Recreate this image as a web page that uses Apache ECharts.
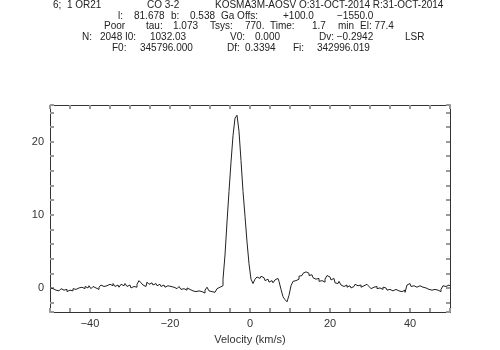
<!DOCTYPE html>
<html>
<head>
<meta charset="utf-8">
<script src="https://cdn.jsdelivr.net/npm/echarts@6/dist/echarts.min.js"></script>
<style>
  html, body { margin: 0; padding: 0; background: #fff; }
  #box { width: 500px; height: 350px; }
</style>
</head>
<body>
<div id="box"></div>
<script>
// channel grid of the spectrum (km/s)
const velStart = -50;
const velStep = 0.5;

// antenna temperature per channel
const temp = [
  0.0, -0.1, 0.1, -0.3, -0.4, -0.2, -0.1, -0.3, -0.2, -0.5,
  -0.3, -0.4, -0.1, -0.2, 0.0, -0.2, 0.1, -0.1, 0.2, 0.0,
  0.3, -0.1, 0.2, 0.0, -0.2, 0.1, 0.4, 0.2, 0.3, 0.1,
  0.5, 0.3, 0.6, 0.2, 0.4, 0.1, 0.5, 0.3, 0.6, 0.2,
  0.4, 0.0, 0.2, 0.1, 0.5, 1.0, 0.7, 0.4, 0.2, 0.8,
  0.5, 0.7, 0.4, 0.6, 0.3, 0.5, 0.2, 0.4, 0.1, 0.3,
  0.2, 0.4, 0.1, -0.1, 0.0, 0.2, -0.2, -0.1, -0.3, 0.0,
  -0.2, -0.4, -0.3, -0.5, -0.4, -0.6, -0.5, -0.7, -0.3, 0.1,
  -0.4, -0.5, -0.6, -0.4, -0.1, 0.1, 0.3, 1.2, 4.5, 9.0,
  13.2, 17.2, 20.8, 23.2, 23.6, 21.4, 17.4, 13.2, 9.8, 6.3,
  3.3, 1.2, 0.6, 1.2, 1.5, 1.3, 1.6, 1.4, 1.0, 1.2,
  0.8, 1.0, 0.7, 1.1, 1.3, 0.9, -0.2, -1.2, -1.6, -1.9,
  -1.0, 0.3, 0.9, 1.0, 1.2, 1.6, 1.7, 2.0, 2.2, 2.0,
  1.7, 1.8, 1.4, 1.2, 1.3, 0.9, 1.0, 0.8, 1.2, 1.7,
  1.5, 1.1, 1.3, 0.7, 0.6, 0.9, 0.4, 0.2, 0.4, 0.1,
  0.3, 0.0, 0.2, 0.5, 0.3, 0.4, 0.1, 0.3, 0.5, 0.6,
  0.2, -0.1, 0.1, 0.2, -0.1, 0.0, -0.2, 0.1, 0.0, -0.3,
  -0.2, -0.4, -0.3, -0.2, -0.4, -0.3, -0.5, -0.3, -0.6, 0.4,
  0.6, 0.2, 0.3, 0.1, 0.2, 0.3, 0.1, -0.1, 0.0, -0.2,
  -0.1, -0.3, -0.2, -0.4, -0.3, -0.5, -0.2, 0.3, 0.2, 0.4,
  0.3
];

// axis ranges and labelled ticks
const xRange = [-50, 50];
const yRange = [-3.3, 25];
const xLabels = [-40, -20, 0, 20, 40];
const yLabels = [0, 10, 20];

// header lines: [x, line, text]
const header = [
  [53, 0, "6;  1 OR21"], [147, 0, "CO 3-2"], [215, 0, "KOSMA3M-AOSV O:31-OCT-2014 R:31-OCT-2014"],
  [118, 1, "l:"], [134, 1, "81.678"], [171, 1, "b:"], [190, 1, "0.538"], [221, 1, "Ga Offs:"], [283, 1, "+100.0"], [337, 1, "\u22121550.0"],
  [104, 2, "Poor"], [146, 2, "tau:"], [173, 2, "1.073"], [210, 2, "Tsys:"], [245, 2, "770."], [270, 2, "Time:"], [312, 2, "1.7"], [338, 2, "min"], [360, 2, "El: 77.4"],
  [82, 3, "N:"], [100, 3, "2048 I0:"], [150, 3, "1032.03"], [230, 3, "V0:"], [255, 3, "0.000"], [319, 3, "Dv: \u22120.2942"], [405, 3, "LSR"],
  [112, 4, "F0:"], [140, 4, "345796.000"], [227, 4, "Df:"], [245, 4, "0.3394"], [293, 4, "Fi:"], [317, 4, "342996.019"]
];

const lineColor = "#333";
const font = "'Liberation Sans', Arial, sans-serif";

const chart = echarts.init(document.getElementById("box"));

const seriesData = temp.map((t, i) => [velStart + i * velStep, t]);

function fmt(list) {
  return v => {
    const hit = list.find(l => Math.abs(l - v) < 1e-6);
    if (hit === undefined) return "";
    return hit < 0 ? "\u2212" + Math.abs(hit) : String(hit);
  };
}

// frame side: inward ticks, axis line, optional labels
// (inside ticks of width 1 do not show up, so they are 2px and lighter)
function side(pos, range, step, labels) {
  const ax = {
    type: "value",
    position: pos,
    min: range[0],
    max: range[1],
    axisLine: { show: true, onZero: false, lineStyle: { color: lineColor, width: 1 } },
    axisTick: { show: true, inside: true, length: 4, lineStyle: { color: "#999", width: 2 } },
    axisLabel: labels
      ? { show: true, formatter: fmt(labels), color: "#333", fontSize: 11, fontFamily: font, margin: 6 }
      : { show: false },
    splitLine: { show: false }
  };
  if (step.interval) ax.interval = step.interval;
  if (step.split) ax.splitNumber = step.split;
  return ax;
}

const option = {
  backgroundColor: "#fff",
  animation: false,
  graphic: header.map(h => ({
    type: "text",
    left: h[0],
    top: h[1] * 10.8,
    style: { text: h[2], fill: "#222", font: "10px " + font }
  })),
  grid: { left: 50, right: 50, top: 105, bottom: 36 },
  xAxis: [
    Object.assign(side("bottom", xRange, { interval: 5 }, xLabels), {
      name: "Velocity (km/s)",
      nameLocation: "middle",
      nameGap: 18,
      nameTextStyle: { color: "#333", fontSize: 11, fontFamily: font }
    }),
    side("top", xRange, { interval: 5 }, null)
  ],
  yAxis: [
    side("left", yRange, { split: 14 }, yLabels),
    side("right", yRange, { split: 14 }, null)
  ],
  series: [
    {
      type: "line",
      step: "middle",
      xAxisIndex: 0,
      yAxisIndex: 0,
      data: seriesData,
      showSymbol: false,
      lineStyle: { color: "#222", width: 1 }
    }
  ]
};

chart.setOption(option);
</script>
</body>
</html>
